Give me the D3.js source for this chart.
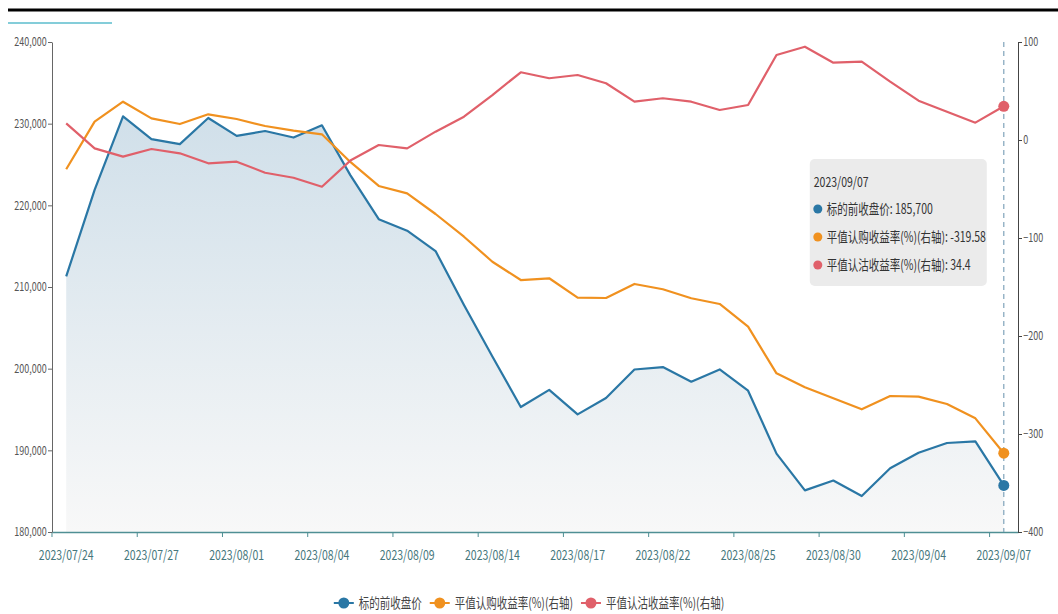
<!DOCTYPE html>
<html>
<head>
<meta charset="utf-8">
<script src="https://cdn.jsdelivr.net/npm/d3@7"></script>
<style>
body { margin: 0; background: #fff; }
svg text { font-family: "Noto Sans CJK SC", "Noto Sans", sans-serif; }
</style>
</head>
<body>
<script>
const dates = [
    '2023/07/24', '2023/07/25', '2023/07/26', '2023/07/27', '2023/07/28', '2023/07/31',
    '2023/08/01', '2023/08/02', '2023/08/03', '2023/08/04', '2023/08/07', '2023/08/08',
    '2023/08/09', '2023/08/10', '2023/08/11', '2023/08/14', '2023/08/15', '2023/08/16',
    '2023/08/17', '2023/08/18', '2023/08/21', '2023/08/22', '2023/08/23', '2023/08/24',
    '2023/08/25', '2023/08/28', '2023/08/29', '2023/08/30', '2023/08/31', '2023/09/01',
    '2023/09/04', '2023/09/05', '2023/09/06', '2023/09/07'
];
const underlying = [
    211300, 221900, 230900, 228100, 227500, 230700, 228500, 229100, 228300, 229800,
    223700, 218300, 216900, 214400, 207800, 201500, 195300, 197400, 194400, 196400,
    199900, 200200, 198400, 199900, 197300, 189600, 185100, 186300, 184400, 187800,
    189700, 190900, 191100, 185700
];
const callYield = [
    -29.9, 18.7, 39.1, 22.1, 16.3, 26.2, 21.4, 14.3, 9.5, 5.8,
    -22.4, -46.9, -54.4, -75.5, -98.7, -124.2, -142.9, -141.1, -160.9, -161.2,
    -146.9, -152.3, -161.5, -167.3, -190.5, -238.1, -252.3, -263.6, -274.8, -261.2,
    -261.9, -269.4, -284.0, -319.58
];
const putYield = [
    17.0, -8.5, -17.0, -9.2, -13.6, -23.8, -22.1, -33.4, -38.5, -47.7,
    -21.0, -5.1, -8.5, 8.5, 23.8, 45.9, 69.1, 63.0, 66.3, 57.9,
    39.1, 42.6, 39.1, 30.6, 35.7, 86.7, 95.2, 78.9, 79.9, 59.5,
    40.1, 28.9, 17.7, 34.4
];
const leftTicks = [180000, 190000, 200000, 210000, 220000, 230000, 240000];
const rightTicks = [100, 0, -100, -200, -300, -400];
const seriesNames = ['标的前收盘价', '平值认购收益率(%)(右轴)', '平值认沽收益率(%)(右轴)'];
const colors = ['#2a77a5', '#f0911f', '#e0606a'];

function draw() {
    const W = 1058, H = 614;
    const left = 52, right = 1018, top = 42, bottom = 532;
    const squeeze = 'scale(0.75,1)';

    const svg = d3.select('body')
        .append('svg')
        .attr('width', W)
        .attr('height', H);

    // header rules
    svg.append('line')
        .attr('x1', 8).attr('x2', W).attr('y1', 10).attr('y2', 10)
        .attr('stroke', '#000').attr('stroke-width', 3);
    svg.append('line')
        .attr('x1', 8).attr('x2', 112).attr('y1', 23).attr('y2', 23)
        .attr('stroke', '#5bbccc').attr('stroke-width', 1.5);

    const x = d3.scaleBand()
        .domain(dates)
        .range([left, right])
        .padding(0);
    const bw = x.bandwidth();
    const cx = d => x(d) + bw / 2;

    const yL = d3.scaleLinear()
        .domain([180000, 240000])
        .range([bottom, top]);
    const yR = d3.scaleLinear()
        .domain([-400, 100])
        .range([bottom, top]);

    // area gradient
    const grad = svg.append('defs').append('linearGradient')
        .attr('id', 'areaFill')
        .attr('gradientUnits', 'userSpaceOnUse')
        .attr('x1', 0).attr('x2', 0).attr('y1', top).attr('y2', bottom);
    grad.append('stop').attr('offset', '0%').attr('stop-color', '#c9dbe7');
    grad.append('stop').attr('offset', '100%').attr('stop-color', '#f8f8f8');

    const area = d3.area()
        .x((d, i) => cx(dates[i]))
        .y0(bottom)
        .y1(d => yL(d));
    svg.append('path')
        .datum(underlying)
        .attr('d', area)
        .attr('fill', 'url(#areaFill)');

    // axes
    const tickDates = dates.filter((d, i) => i % 3 === 0);
    const xAxis = svg.append('g')
        .attr('transform', 'translate(0,' + bottom + ')')
        .call(d3.axisBottom(x).tickValues(tickDates).tickSize(5).tickSizeOuter(0));
    xAxis.select('.domain').attr('stroke', '#4f8f94').attr('stroke-width', 1.5);
    xAxis.selectAll('.tick line')
        .attr('x1', -bw / 2).attr('x2', -bw / 2)
        .attr('stroke', '#4f8f94');
    xAxis.selectAll('.tick text')
        .attr('y', 18)
        .attr('font-size', 14)
        .attr('fill', '#46777c')
        .attr('transform', squeeze);

    const lAxis = svg.append('g')
        .attr('transform', 'translate(' + left + ',0)')
        .call(d3.axisLeft(yL).tickValues(leftTicks).tickSize(4).tickSizeOuter(0)
            .tickFormat(d3.format(',')));
    lAxis.select('.domain').attr('stroke', '#666');
    lAxis.selectAll('.tick line').attr('stroke', '#666');
    lAxis.selectAll('.tick text')
        .attr('font-size', 12)
        .attr('fill', '#555')
        .attr('transform', squeeze);

    const rAxis = svg.append('g')
        .attr('transform', 'translate(' + right + ',0)')
        .call(d3.axisRight(yR).tickValues(rightTicks).tickSize(4).tickSizeOuter(0));
    rAxis.select('.domain').attr('stroke', '#444');
    rAxis.selectAll('.tick line').attr('stroke', '#444');
    rAxis.selectAll('.tick text')
        .attr('font-size', 12)
        .attr('fill', '#555')
        .attr('transform', squeeze);

    // hover line on the last date
    const last = dates[dates.length - 1];
    svg.append('line')
        .attr('x1', cx(last)).attr('x2', cx(last))
        .attr('y1', top).attr('y2', bottom)
        .attr('stroke', '#7fa3bb')
        .attr('stroke-width', 1.2)
        .attr('stroke-dasharray', '5,4');

    // lines
    const series = [
        { values: underlying, y: yL },
        { values: callYield, y: yR },
        { values: putYield, y: yR }
    ];
    series.forEach(function(s, k) {
        const line = d3.line()
            .x((d, i) => cx(dates[i]))
            .y(d => s.y(d));
        svg.append('path')
            .datum(s.values)
            .attr('d', line)
            .attr('fill', 'none')
            .attr('stroke', colors[k])
            .attr('stroke-width', 2.2)
            .attr('stroke-linejoin', 'round');
    });
    series.forEach(function(s, k) {
        const v = s.values[s.values.length - 1];
        svg.append('circle')
            .attr('cx', cx(last))
            .attr('cy', s.y(v))
            .attr('r', 5.5)
            .attr('fill', colors[k]);
    });

    // tooltip
    const tipRight = cx(last) - 17;
    const tipLeft = tipRight - 177;
    const tipTop = 159;
    svg.append('rect')
        .attr('x', tipLeft).attr('y', tipTop)
        .attr('width', 177).attr('height', 127)
        .attr('rx', 5)
        .attr('fill', '#ebebeb');
    svg.append('g')
        .attr('transform', 'translate(' + (tipLeft + 4) + ',' + (tipTop + 28) + ') ' + squeeze)
        .append('text')
        .attr('font-size', 14)
        .attr('fill', '#333')
        .text(last);
    const tipValues = [
        d3.format(',')(underlying[underlying.length - 1]),
        callYield[callYield.length - 1],
        putYield[putYield.length - 1]
    ];
    seriesNames.forEach(function(name, k) {
        const cy = tipTop + 50 + k * 28;
        svg.append('circle')
            .attr('cx', tipLeft + 8)
            .attr('cy', cy)
            .attr('r', 4.5)
            .attr('fill', colors[k]);
        svg.append('g')
            .attr('transform', 'translate(' + (tipLeft + 17) + ',' + (cy + 5) + ') ' + squeeze)
            .append('text')
            .attr('font-size', 14)
            .attr('fill', '#333')
            .text(name + ': ' + tipValues[k]);
    });

    // legend
    const legend = svg.append('g');
    const legY = 603;
    const gap = 8;
    let pos = 0;
    seriesNames.forEach(function(name, k) {
        const item = legend.append('g').attr('transform', 'translate(' + pos + ',0)');
        item.append('line')
            .attr('x1', 0).attr('x2', 20).attr('y1', legY).attr('y2', legY)
            .attr('stroke', colors[k]).attr('stroke-width', 2);
        item.append('circle')
            .attr('cx', 10).attr('cy', legY).attr('r', 5.5)
            .attr('fill', colors[k]);
        const t = item.append('g')
            .attr('transform', 'translate(25,' + (legY + 5) + ') ' + squeeze)
            .append('text')
            .attr('font-size', 14)
            .attr('fill', '#444')
            .text(name);
        pos += 25 + t.node().getComputedTextLength() * 0.75 + gap;
    });
    legend.attr('transform', 'translate(' + ((W - (pos - gap)) / 2) + ',0)');
}

draw();
</script>
</body>
</html>
